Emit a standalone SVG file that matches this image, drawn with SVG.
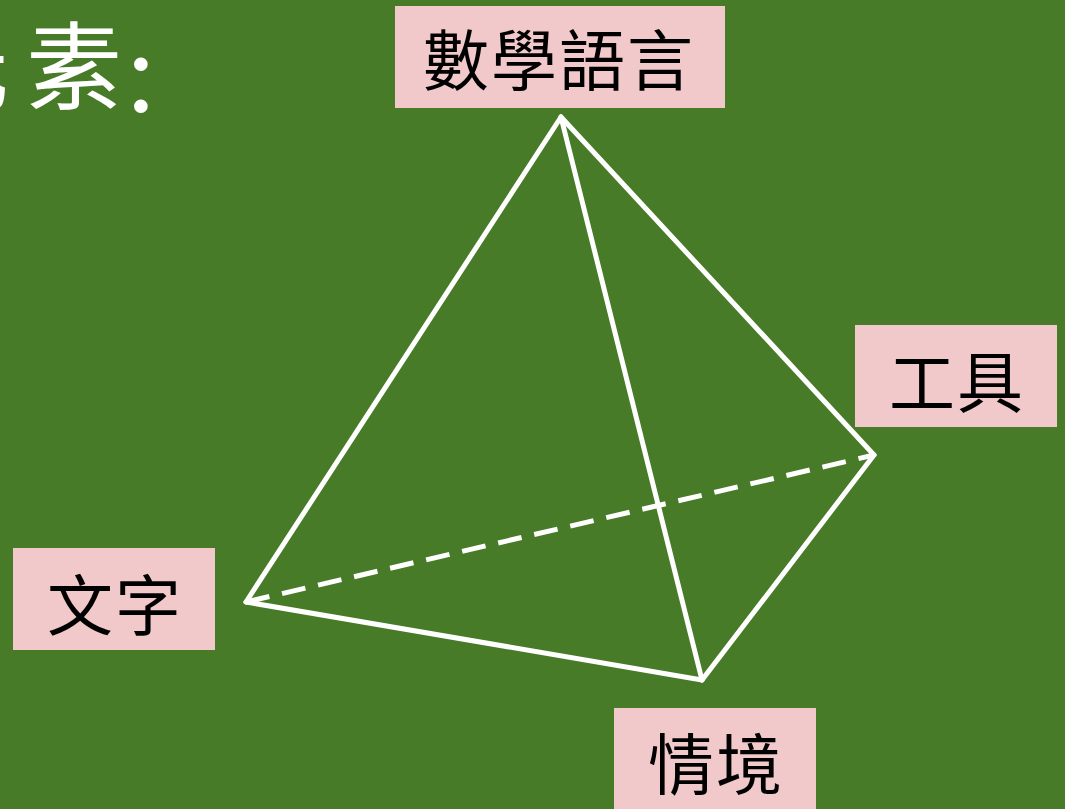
<svg xmlns="http://www.w3.org/2000/svg" width="1065" height="809" viewBox="0 0 1065 809">
<style>
.box{fill:#f2c9ca}
.lb{font-family:"Noto Sans CJK TC","Noto Sans CJK SC",serif;font-size:66px;fill:#000;text-anchor:middle;letter-spacing:2px}
.tt{font-family:"Noto Sans CJK TC","Noto Sans CJK SC",serif;font-size:96px;fill:#fff}
.edge{fill:none;stroke:#fff;stroke-width:5;stroke-linecap:round}
.dash{stroke-dasharray:24 13;stroke-linecap:butt}
</style>
<rect width="1065" height="809" fill="#487b27"/>
<g id="title">
<text class="tt" x="-87" y="102">元</text>
<text class="tt" x="26" y="102">素</text>
<text x="125" y="111" font-family="Liberation Serif, serif" font-size="115" fill="#fff">:</text>
</g>
<g id="connectors">
<line class="edge" x1="561" y1="117" x2="246" y2="602"/>
<line class="edge" x1="561" y1="117" x2="702" y2="680"/>
<line class="edge" x1="561" y1="117" x2="874" y2="455"/>
<line class="edge" x1="246" y1="602" x2="702" y2="680"/>
<line class="edge" x1="702" y1="680" x2="874" y2="455"/>
<line class="edge dash" x1="246" y1="602" x2="874" y2="455"/>
</g>
<g id="node-language"><rect class="box" x="395" y="6" width="330" height="102"/><text class="lb" x="559" y="85">數學語言</text></g>
<g id="node-tool"><rect class="box" x="855" y="325" width="202" height="102"/><text class="lb" x="957" y="407">工具</text></g>
<g id="node-text"><rect class="box" x="13" y="548" width="202" height="102"/><text class="lb" x="115" y="630">文字</text></g>
<g id="node-context"><rect class="box" x="614" y="708" width="202" height="101"/><text class="lb" x="716" y="789">情境</text></g>
</svg>
